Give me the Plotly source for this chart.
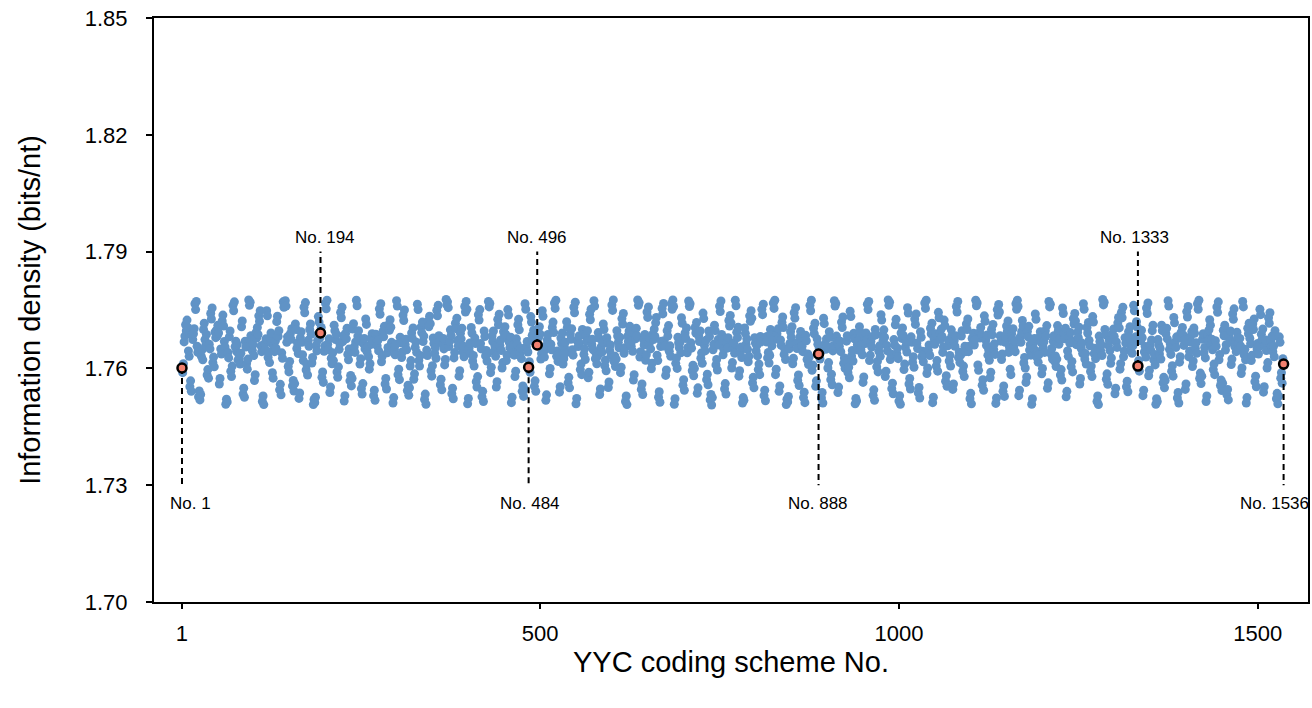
import plotly.graph_objects as go

# Information density (bits/nt) of each YYC coding scheme, in scheme order 1..1536
density = [
1.7601,1.7589,1.7612,1.7668,1.7683,1.7712,1.7697,1.7724,1.7705,1.7645,1.7631,1.7553,1.7568,1.7541,1.7686,1.7674,
1.7689,1.7702,1.7766,1.7751,1.7772,1.7657,1.7641,1.7527,1.7542,1.7519,1.7533,1.7631,1.7648,1.7622,1.7700,1.7716,
1.7674,1.7659,1.7687,1.7583,1.7597,1.7575,1.7662,1.7650,1.7741,1.7727,1.7755,1.7615,1.7629,1.7604,1.7693,1.7679,
1.7698,1.7683,1.7711,1.7691,1.7560,1.7574,1.7650,1.7637,1.7722,1.7737,1.7709,1.7669,1.7655,1.7508,1.7521,1.7514,
1.7641,1.7627,1.7681,1.7696,1.7593,1.7579,1.7606,1.7762,1.7748,1.7771,1.7656,1.7670,1.7644,1.7661,1.7622,1.7637,
1.7625,1.7611,1.7639,1.7707,1.7722,1.7534,1.7549,1.7526,1.7670,1.7655,1.7612,1.7598,1.7624,1.7776,1.7762,1.7770,
1.7684,1.7670,1.7646,1.7661,1.7633,1.7569,1.7584,1.7692,1.7678,1.7705,1.7687,1.7735,1.7721,1.7748,1.7658,1.7643,
1.7515,1.7529,1.7507,1.7663,1.7648,1.7676,1.7748,1.7735,1.7628,1.7642,1.7615,1.7676,1.7691,1.7664,1.7589,1.7575,
1.7657,1.7643,1.7670,1.7652,1.7720,1.7734,1.7682,1.7697,1.7545,1.7559,1.7532,1.7640,1.7626,1.7771,1.7757,1.7766,
1.7774,1.7760,1.7667,1.7681,1.7605,1.7591,1.7618,1.7689,1.7675,1.7702,1.7555,1.7569,1.7542,1.7561,1.7714,1.7700,
1.7651,1.7665,1.7638,1.7523,1.7537,1.7679,1.7694,1.7667,1.7635,1.7620,1.7757,1.7743,1.7769,1.7596,1.7610,1.7583,
1.7672,1.7657,1.7700,1.7714,1.7688,1.7614,1.7628,1.7507,1.7520,1.7512,1.7526,1.7659,1.7645,1.7672,1.7733,1.7719,
1.7678,1.7691,1.7705,1.7577,1.7591,1.7564,1.7644,1.7658,1.7767,1.7753,1.7775,1.7662,1.7648,1.7676,1.7538,1.7552,
1.7626,1.7612,1.7640,1.7620,1.7711,1.7697,1.7674,1.7688,1.7591,1.7577,1.7604,1.7649,1.7663,1.7744,1.7730,1.7757,
1.7669,1.7684,1.7516,1.7530,1.7690,1.7676,1.7703,1.7636,1.7622,1.7650,1.7568,1.7582,1.7555,1.7574,1.7701,1.7715,
1.7655,1.7641,1.7668,1.7775,1.7761,1.7683,1.7697,1.7670,1.7611,1.7625,1.7548,1.7534,1.7561,1.7663,1.7677,1.7650,
1.7727,1.7713,1.7642,1.7656,1.7630,1.7598,1.7612,1.7676,1.7662,1.7689,1.7671,1.7530,1.7544,1.7518,1.7688,1.7674,
1.7658,1.7672,1.7645,1.7753,1.7739,1.7766,1.7617,1.7631,1.7695,1.7681,1.7708,1.7560,1.7574,1.7547,1.7640,1.7654,
1.7712,1.7698,1.7725,1.7706,1.7667,1.7652,1.7511,1.7525,1.7649,1.7635,1.7662,1.7774,1.7760,1.7584,1.7598,1.7571,
1.7680,1.7666,1.7628,1.7642,1.7737,1.7723,1.7750,1.7661,1.7675,1.7648,1.7543,1.7557,1.7531,1.7550,1.7606,1.7620,
1.7691,1.7677,1.7704,1.7572,1.7586,1.7654,1.7668,1.7641,1.7765,1.7751,1.7620,1.7606,1.7633,1.7706,1.7692,1.7719,
1.7669,1.7683,1.7520,1.7534,1.7508,1.7647,1.7633,1.7721,1.7707,1.7734,1.7715,1.7594,1.7580,1.7607,1.7678,1.7664,
1.7639,1.7653,1.7626,1.7749,1.7735,1.7762,1.7684,1.7670,1.7558,1.7572,1.7545,1.7663,1.7677,1.7650,1.7609,1.7623,
1.7777,1.7763,1.7771,1.7756,1.7656,1.7670,1.7699,1.7685,1.7535,1.7549,1.7522,1.7627,1.7641,1.7716,1.7702,1.7729,
1.7672,1.7658,1.7580,1.7594,1.7690,1.7676,1.7703,1.7643,1.7657,1.7630,1.7759,1.7745,1.7772,1.7752,1.7509,1.7523,
1.7651,1.7665,1.7638,1.7705,1.7691,1.7619,1.7633,1.7606,1.7678,1.7664,1.7566,1.7552,1.7579,1.7738,1.7724,1.7751,
1.7664,1.7650,1.7527,1.7541,1.7515,1.7696,1.7682,1.7632,1.7646,1.7619,1.7638,1.7772,1.7758,1.7767,1.7589,1.7603,
1.7683,1.7669,1.7696,1.7644,1.7658,1.7631,1.7552,1.7566,1.7726,1.7712,1.7739,1.7659,1.7673,1.7646,1.7601,1.7615,
1.7694,1.7680,1.7707,1.7688,1.7620,1.7634,1.7751,1.7737,1.7667,1.7653,1.7680,1.7512,1.7526,1.7647,1.7661,1.7634,
1.7579,1.7593,1.7676,1.7662,1.7712,1.7726,1.7699,1.7638,1.7652,1.7625,1.7541,1.7555,1.7528,1.7547,1.7766,1.7752,
1.7655,1.7669,1.7642,1.7603,1.7617,1.7590,1.7733,1.7719,1.7685,1.7671,1.7698,1.7554,1.7568,1.7541,1.7674,1.7660,
1.7694,1.7680,1.7707,1.7688,1.7624,1.7638,1.7748,1.7734,1.7643,1.7629,1.7656,1.7518,1.7532,1.7673,1.7687,1.7660,
1.7586,1.7600,1.7662,1.7648,1.7705,1.7719,1.7692,1.7768,1.7754,1.7775,1.7631,1.7645,1.7618,1.7637,1.7539,1.7553,
1.7678,1.7664,1.7691,1.7611,1.7625,1.7653,1.7667,1.7640,1.7720,1.7706,1.7563,1.7577,1.7550,1.7689,1.7675,1.7702,
1.7648,1.7634,1.7757,1.7743,1.7770,1.7509,1.7523,1.7670,1.7656,1.7683,1.7664,1.7597,1.7611,1.7584,1.7700,1.7686,
1.7636,1.7650,1.7623,1.7684,1.7670,1.7697,1.7576,1.7590,1.7739,1.7725,1.7752,1.7661,1.7675,1.7648,1.7774,1.7760,
1.7625,1.7639,1.7612,1.7631,1.7692,1.7678,1.7533,1.7547,1.7655,1.7641,1.7668,1.7714,1.7700,1.7607,1.7621,1.7594,
1.7679,1.7665,1.7551,1.7565,1.7646,1.7660,1.7633,1.7763,1.7749,1.7776,1.7618,1.7632,1.7605,1.7624,1.7697,1.7683,
1.7667,1.7653,1.7680,1.7589,1.7603,1.7728,1.7714,1.7741,1.7639,1.7653,1.7515,1.7529,1.7507,1.7683,1.7669,1.7696,
1.7708,1.7694,1.7657,1.7671,1.7644,1.7570,1.7584,1.7690,1.7676,1.7703,1.7684,1.7776,1.7762,1.7769,1.7629,1.7643,
1.7546,1.7560,1.7533,1.7674,1.7660,1.7687,1.7621,1.7635,1.7745,1.7731,1.7758,1.7663,1.7677,1.7650,1.7599,1.7613,
1.7688,1.7674,1.7701,1.7682,1.7717,1.7731,1.7634,1.7620,1.7526,1.7540,1.7513,1.7656,1.7670,1.7754,1.7740,1.7767,
1.7671,1.7657,1.7582,1.7596,1.7697,1.7683,1.7710,1.7644,1.7658,1.7631,1.7766,1.7752,1.7776,1.7759,1.7508,1.7522,
1.7613,1.7627,1.7600,1.7680,1.7666,1.7653,1.7667,1.7640,1.7730,1.7716,1.7557,1.7571,1.7544,1.7691,1.7677,1.7704,
1.7640,1.7654,1.7773,1.7759,1.7766,1.7666,1.7652,1.7594,1.7608,1.7581,1.7600,1.7705,1.7691,1.7718,1.7536,1.7550,
1.7683,1.7669,1.7696,1.7626,1.7640,1.7613,1.7742,1.7728,1.7659,1.7645,1.7672,1.7571,1.7585,1.7558,1.7696,1.7682,
1.7519,1.7533,1.7506,1.7525,1.7648,1.7662,1.7711,1.7697,1.7609,1.7623,1.7596,1.7674,1.7660,1.7760,1.7746,1.7773,
1.7687,1.7673,1.7635,1.7649,1.7547,1.7561,1.7534,1.7666,1.7652,1.7679,1.7723,1.7709,1.7736,1.7717,1.7601,1.7615,
1.7652,1.7666,1.7639,1.7775,1.7761,1.7693,1.7679,1.7706,1.7580,1.7594,1.7641,1.7655,1.7628,1.7511,1.7525,1.7518,
1.7704,1.7690,1.7662,1.7676,1.7649,1.7617,1.7631,1.7735,1.7721,1.7748,1.7729,1.7563,1.7577,1.7550,1.7679,1.7665,
1.7645,1.7659,1.7632,1.7597,1.7611,1.7584,1.7682,1.7668,1.7752,1.7738,1.7765,1.7530,1.7544,1.7517,1.7668,1.7682,
1.7627,1.7641,1.7614,1.7633,1.7700,1.7686,1.7658,1.7672,1.7768,1.7754,1.7775,1.7584,1.7598,1.7689,1.7675,1.7702,
1.7541,1.7555,1.7673,1.7659,1.7718,1.7732,1.7705,1.7636,1.7650,1.7623,1.7507,1.7521,1.7514,1.7528,1.7650,1.7664,
1.7694,1.7680,1.7707,1.7612,1.7626,1.7743,1.7729,1.7756,1.7665,1.7651,1.7569,1.7583,1.7556,1.7681,1.7695,1.7668,
1.7657,1.7643,1.7525,1.7539,1.7512,1.7685,1.7671,1.7623,1.7637,1.7610,1.7629,1.7762,1.7748,1.7775,1.7595,1.7609,
1.7703,1.7689,1.7716,1.7554,1.7568,1.7676,1.7662,1.7637,1.7651,1.7624,1.7643,1.7524,1.7538,1.7511,1.7729,1.7715,
1.7663,1.7649,1.7676,1.7657,1.7601,1.7615,1.7694,1.7680,1.7571,1.7585,1.7558,1.7645,1.7659,1.7774,1.7760,1.7767,
1.7683,1.7669,1.7538,1.7552,1.7656,1.7670,1.7643,1.7719,1.7705,1.7732,1.7613,1.7627,1.7600,1.7619,1.7670,1.7684,
1.7589,1.7603,1.7576,1.7747,1.7733,1.7632,1.7646,1.7619,1.7690,1.7676,1.7509,1.7523,1.7516,1.7661,1.7647,1.7674,
1.7707,1.7693,1.7648,1.7662,1.7635,1.7564,1.7578,1.7678,1.7664,1.7691,1.7672,1.7765,1.7751,1.7772,1.7620,1.7634,
1.7669,1.7655,1.7682,1.7531,1.7545,1.7518,1.7700,1.7686,1.7604,1.7618,1.7591,1.7644,1.7658,1.7631,1.7738,1.7724,
1.7686,1.7672,1.7699,1.7680,1.7579,1.7593,1.7659,1.7645,1.7776,1.7762,1.7770,1.7623,1.7637,1.7548,1.7562,1.7535,
1.7674,1.7660,1.7712,1.7726,1.7638,1.7652,1.7625,1.7516,1.7530,1.7508,1.7691,1.7677,1.7704,1.7685,1.7597,1.7611,
1.7655,1.7669,1.7642,1.7756,1.7742,1.7560,1.7574,1.7547,1.7681,1.7667,1.7616,1.7630,1.7603,1.7727,1.7713,1.7740,
1.7665,1.7651,1.7537,1.7551,1.7524,1.7694,1.7680,1.7630,1.7644,1.7617,1.7636,1.7768,1.7754,1.7775,1.7587,1.7601,
1.7646,1.7660,1.7633,1.7703,1.7689,1.7716,1.7512,1.7526,1.7676,1.7662,1.7689,1.7606,1.7620,1.7593,1.7744,1.7730,
1.7688,1.7674,1.7701,1.7682,1.7641,1.7655,1.7724,1.7710,1.7567,1.7581,1.7554,1.7658,1.7672,1.7619,1.7633,1.7606,
1.7699,1.7685,1.7546,1.7560,1.7671,1.7657,1.7684,1.7759,1.7745,1.7772,1.7628,1.7642,1.7615,1.7634,1.7683,1.7697,
1.7592,1.7606,1.7579,1.7657,1.7643,1.7714,1.7700,1.7727,1.7643,1.7657,1.7522,1.7536,1.7509,1.7677,1.7663,1.7690,
1.7660,1.7674,1.7775,1.7761,1.7768,1.7609,1.7595,1.7692,1.7678,1.7705,1.7686,1.7557,1.7571,1.7544,1.7735,1.7721,
1.7673,1.7659,1.7686,1.7634,1.7648,1.7621,1.7576,1.7590,1.7700,1.7686,1.7713,1.7649,1.7663,1.7636,1.7510,1.7524,
1.7751,1.7737,1.7764,1.7745,1.7684,1.7670,1.7623,1.7637,1.7541,1.7555,1.7528,1.7667,1.7681,1.7709,1.7695,1.7722,
1.7641,1.7655,1.7598,1.7584,1.7689,1.7675,1.7702,1.7656,1.7670,1.7643,1.7766,1.7752,1.7775,1.7759,1.7530,1.7544,
1.7681,1.7667,1.7694,1.7723,1.7709,1.7614,1.7628,1.7601,1.7564,1.7578,1.7695,1.7681,1.7708,1.7647,1.7661,1.7634,
1.7508,1.7522,1.7664,1.7650,1.7677,1.7740,1.7726,1.7629,1.7643,1.7616,1.7635,1.7680,1.7694,1.7667,1.7586,1.7600,
1.7654,1.7668,1.7641,1.7697,1.7683,1.7710,1.7549,1.7563,1.7772,1.7758,1.7765,1.7637,1.7651,1.7624,1.7670,1.7684,
1.7618,1.7632,1.7605,1.7624,1.7710,1.7696,1.7662,1.7676,1.7583,1.7597,1.7570,1.7755,1.7741,1.7690,1.7676,1.7703,
1.7527,1.7541,1.7645,1.7631,1.7679,1.7665,1.7692,1.7604,1.7618,1.7591,1.7728,1.7714,1.7741,1.7722,1.7661,1.7675,
1.7693,1.7679,1.7706,1.7560,1.7574,1.7651,1.7665,1.7638,1.7766,1.7752,1.7624,1.7638,1.7611,1.7705,1.7691,1.7718,
1.7672,1.7658,1.7592,1.7606,1.7579,1.7733,1.7719,1.7638,1.7652,1.7625,1.7644,1.7515,1.7529,1.7507,1.7683,1.7669,
1.7646,1.7660,1.7633,1.7777,1.7763,1.7770,1.7700,1.7686,1.7572,1.7586,1.7559,1.7659,1.7673,1.7646,1.7613,1.7627,
1.7688,1.7674,1.7701,1.7682,1.7535,1.7549,1.7668,1.7654,1.7717,1.7731,1.7704,1.7598,1.7612,1.7744,1.7730,1.7757,
1.7630,1.7644,1.7679,1.7665,1.7553,1.7567,1.7540,1.7694,1.7680,1.7707,1.7652,1.7666,1.7639,1.7658,1.7762,1.7748,
1.7667,1.7681,1.7720,1.7706,1.7606,1.7620,1.7593,1.7685,1.7671,1.7698,1.7679,1.7530,1.7544,1.7642,1.7656,1.7629,
1.7755,1.7741,1.7768,1.7581,1.7595,1.7660,1.7646,1.7673,1.7697,1.7711,1.7622,1.7636,1.7609,1.7508,1.7522,1.7515,
1.7674,1.7660,1.7637,1.7651,1.7624,1.7711,1.7697,1.7563,1.7577,1.7550,1.7569,1.7689,1.7703,1.7676,1.7774,1.7760,
1.7649,1.7663,1.7636,1.7593,1.7607,1.7580,1.7731,1.7717,1.7668,1.7654,1.7681,1.7524,1.7538,1.7511,1.7616,1.7630,
1.7692,1.7678,1.7705,1.7686,1.7659,1.7673,1.7546,1.7560,1.7746,1.7732,1.7759,1.7630,1.7644,1.7681,1.7667,1.7694,
1.7605,1.7619,1.7704,1.7690,1.7652,1.7666,1.7639,1.7766,1.7752,1.7775,1.7574,1.7588,1.7561,1.7580,1.7675,1.7689,
1.7640,1.7654,1.7627,1.7515,1.7529,1.7686,1.7672,1.7699,1.7725,1.7711,1.7661,1.7675,1.7648,1.7597,1.7611,1.7584,
1.7671,1.7657,1.7758,1.7744,1.7771,1.7622,1.7636,1.7556,1.7570,1.7543,1.7562,1.7698,1.7684,1.7711,1.7647,1.7661,
1.7532,1.7546,1.7519,1.7683,1.7669,1.7696,1.7610,1.7624,1.7740,1.7726,1.7753,1.7656,1.7670,1.7643,1.7693,1.7679,
1.7664,1.7650,1.7677,1.7658,1.7587,1.7601,1.7772,1.7758,1.7635,1.7649,1.7622,1.7511,1.7525,1.7703,1.7689,1.7716,
1.7677,1.7663,1.7620,1.7634,1.7714,1.7700,1.7727,1.7566,1.7580,1.7553,1.7650,1.7664,1.7637,1.7656,1.7752,1.7738,
1.7688,1.7674,1.7701,1.7539,1.7553,1.7659,1.7673,1.7646,1.7601,1.7615,1.7730,1.7716,1.7743,1.7670,1.7656,1.7683,
1.7643,1.7657,1.7630,1.7697,1.7683,1.7522,1.7536,1.7509,1.7528,1.7681,1.7667,1.7575,1.7589,1.7562,1.7625,1.7611,
]
scheme_no = list(range(1, len(density) + 1))

# Highlighted schemes
hl_no = [1, 194, 484, 496, 888, 1333, 1536]
hl_val = [1.7601, 1.7691, 1.7603, 1.7660, 1.7637, 1.7606, 1.7611]
hl_label = ["No. 1", "No. 194", "No. 484", "No. 496", "No. 888", "No. 1333", "No. 1536"]
hl_up = [False, True, False, True, False, True, False]

x_ticks = [1, 500, 1000, 1500]
y_ticks = [1.70, 1.73, 1.76, 1.79, 1.82, 1.85]

FONT = "Liberation Sans, Arial, Helvetica, sans-serif"
BLUE = "#6093c6"

fig = go.Figure()
fig.add_trace(go.Scatter(
    x=scheme_no, y=density, mode="markers",
    marker=dict(size=9, color=BLUE, line=dict(width=0)),
    hoverinfo="x+y", showlegend=False,
))

LINE_TOP, LINE_BOT = 1.79, 1.73
LAB_TOP, LAB_BOT = 1.7937, 1.7254
label_shift = [9, 4, 1, 0, -1, -3, -9]
for n, v, lab, up, dx in zip(hl_no, hl_val, hl_label, hl_up, label_shift):
    fig.add_trace(go.Scatter(
        x=[n, n], y=[v, LINE_TOP if up else LINE_BOT], mode="lines",
        line=dict(color="black", width=2, dash="6px,4px"),
        hoverinfo="skip", showlegend=False,
    ))
    fig.add_annotation(x=n, y=LAB_TOP if up else LAB_BOT, text=lab, showarrow=False,
                       xanchor="center", yanchor="middle", xshift=dx,
                       font=dict(family=FONT, size=17, color="black"))

fig.add_trace(go.Scatter(
    x=hl_no, y=hl_val, mode="markers",
    marker=dict(size=9, color="#f2806e", line=dict(width=2.5, color="black")),
    showlegend=False,
))

fig.update_layout(
    width=1312, height=708,
    margin=dict(l=154, r=2, t=18, b=106),
    paper_bgcolor="white", plot_bgcolor="white",
    font=dict(family=FONT, color="black"),
    showlegend=False,
)
fig.update_xaxes(
    range=[-38, 1570], tickvals=x_ticks, ticktext=[str(t) for t in x_ticks],
    ticks="outside", ticklen=5, tickwidth=1.5, tickcolor="black",
    showline=True, linecolor="black", linewidth=2, mirror=True,
    showgrid=False, zeroline=False,
    tickfont=dict(family=FONT, size=22, color="black"),
    ticklabelstandoff=6,
    title=dict(text="YYC coding scheme No.", font=dict(family=FONT, size=29, color="black"), standoff=6),
)
fig.update_yaxes(
    range=[1.70, 1.85], tickvals=y_ticks, ticktext=[f"{t:.2f}" for t in y_ticks],
    ticks="outside", ticklen=6, tickwidth=1.5, tickcolor="black",
    showline=True, linecolor="black", linewidth=2, mirror=True,
    showgrid=False, zeroline=False,
    tickfont=dict(family=FONT, size=22, color="black"),
    ticklabelstandoff=14,
    title=dict(text="Information density (bits/nt)", font=dict(family=FONT, size=29, color="black"), standoff=36),
)

fig.write_html("out.html")
